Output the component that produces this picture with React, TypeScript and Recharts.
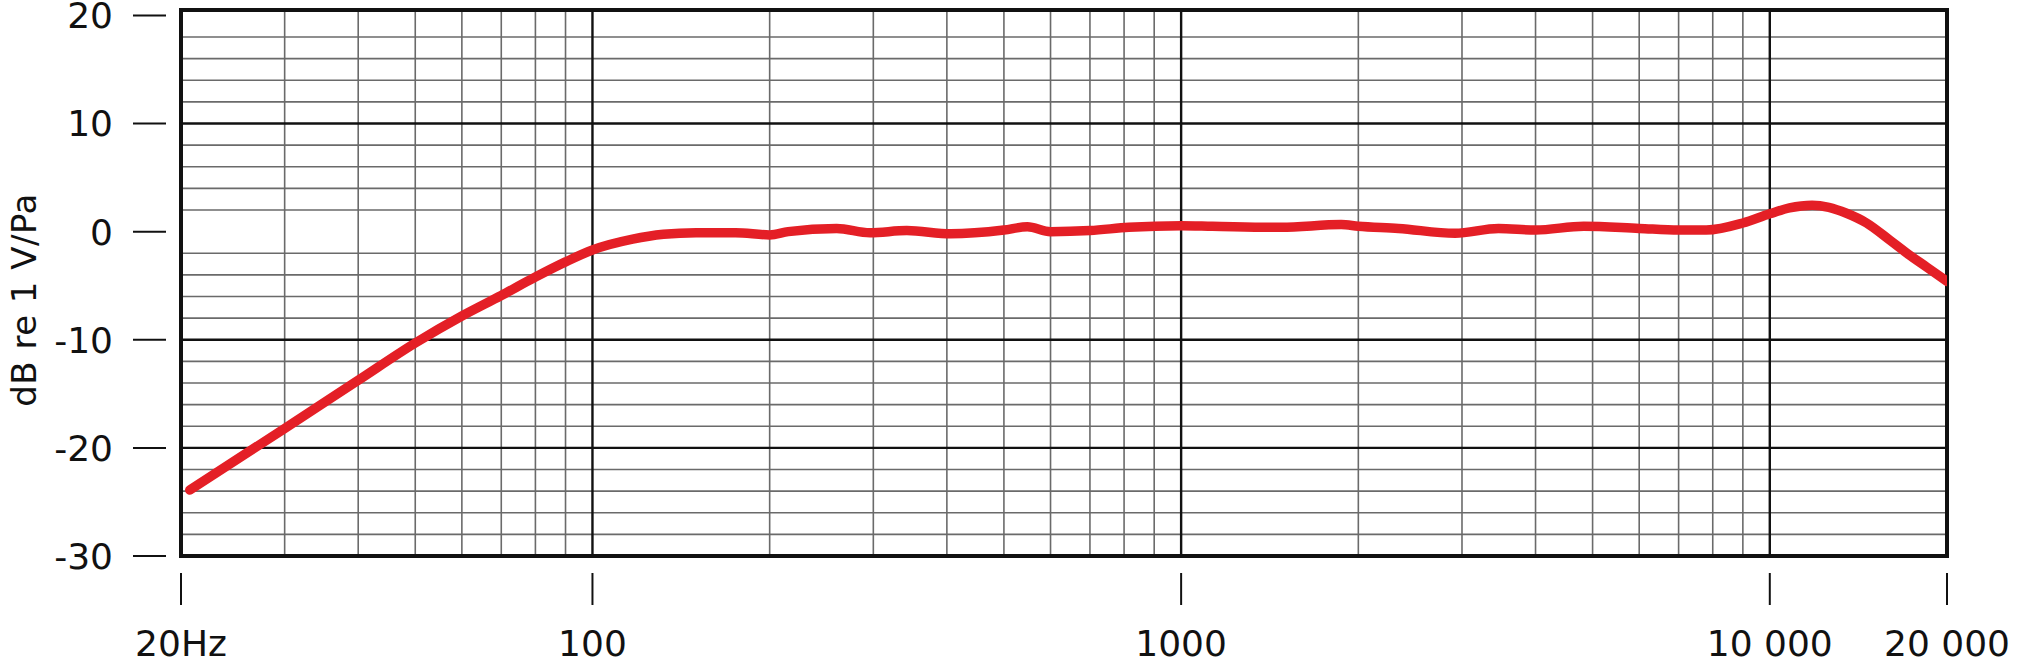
import React from 'react';
import { LineChart, Line, XAxis, YAxis, CartesianGrid, ReferenceArea } from 'recharts';

// Frequency (Hz) and response (dB re 1 V/Pa)
const FREQS = [20.7, 30, 40, 50, 60, 70, 80, 90, 100, 117, 132, 150, 175, 200, 215, 260, 296, 342, 406, 500, 548, 600, 700, 815, 1000, 1130, 1480, 1870, 2000, 2340, 2920, 3460, 4000, 4830, 6000, 7000, 7800, 9000, 10000, 10800, 11800, 12600, 13500, 14600, 16000, 17200, 18500, 20000];
const RESPONSE_DB = [-23.9, -18.2, -13.75, -10.3, -7.8, -5.9, -4.2, -2.8, -1.7, -0.7, -0.25, -0.1, -0.1, -0.3, 0.0, 0.3, -0.1, 0.1, -0.2, 0.15, 0.45, 0.0, 0.1, 0.4, 0.55, 0.5, 0.4, 0.65, 0.5, 0.3, -0.15, 0.3, 0.15, 0.5, 0.3, 0.15, 0.15, 0.8, 1.65, 2.2, 2.45, 2.25, 1.7, 0.8, -0.8, -2.1, -3.3, -4.6];

const X_TICKS = [20, 100, 1000, 10000, 20000];
const X_TICK_LABELS = ['20Hz', '100', '1000', '10 000', '20 000'];
const Y_TICKS = [-30, -20, -10, 0, 10, 20];
const Y_TICK_LABELS = ['-30', '-20', '-10', '0', '10', '20'];

const X_MINOR = [30, 40, 50, 60, 70, 80, 90, 200, 300, 400, 500, 600, 700, 800, 900, 2000, 3000, 4000, 5000, 6000, 7000, 8000, 9000];
const X_MAJOR = [100, 1000, 10000];
const Y_MINOR = [-28, -26, -24, -22, -18, -16, -14, -12, -8, -6, -4, -2, 2, 4, 6, 8, 12, 14, 16, 18];
const Y_MAJOR = [-20, -10, 10];

const Y_TITLE = 'dB re 1 V/Pa';

const data = FREQS.map((f, i) => ({ f, db: RESPONSE_DB[i] }));

const FONT = "'DejaVu Sans', sans-serif";
const FS = 36;

const XTick = (props: any) => {
  const { x, y, payload } = props;
  const idx = X_TICKS.indexOf(payload.value);
  const label = idx >= 0 ? X_TICK_LABELS[idx] : String(payload.value);
  return (
    <g>
      <line x1={x} x2={x} y1={y + 17} y2={y + 49} stroke="#111" strokeWidth={2} />
      <text x={x} y={y + 100} textAnchor="middle" fontFamily={FONT} fontSize={FS} fill="#111">
        {label}
      </text>
    </g>
  );
};

const YTick = (props: any) => {
  const { x, y, payload } = props;
  const idx = Y_TICKS.indexOf(payload.value);
  const label = idx >= 0 ? Y_TICK_LABELS[idx] : String(payload.value);
  return (
    <g>
      <line x1={x - 48} x2={x - 15} y1={y} y2={y} stroke="#111" strokeWidth={2} />
      <text x={x - 68} y={y + Math.max(0, 14 - y) * 0} dy="0.36em" textAnchor="end" fontFamily={FONT} fontSize={FS} fill="#111">
        {label}
      </text>
    </g>
  );
};

const YTitle = () => (
  <text
    x={24}
    y={300}
    transform="rotate(-90 24 300)"
    textAnchor="middle"
    dominantBaseline="central"
    fontFamily={FONT}
    fontSize={34}
    letterSpacing={0.5}
    fill="#111"
  >
    {Y_TITLE}
  </text>
);

export default function App() {
  return (
    <div style={{ position: 'absolute', left: 0, top: 0, width: 2018, height: 669, background: '#fff' }}>
      <LineChart width={2018} height={669} data={data} margin={{ top: 10, right: 71, left: 0, bottom: 0 }}>
        <CartesianGrid
          horizontalValues={Y_MINOR}
          verticalValues={X_MINOR}
          stroke="#6a6a6a"
          strokeWidth={1.6}
        />
        <CartesianGrid
          horizontalValues={Y_MAJOR}
          verticalValues={X_MAJOR}
          stroke="#111"
          strokeWidth={2.4}
        />
        <XAxis
          dataKey="f"
          type="number"
          scale="log"
          domain={[20, 20000]}
          ticks={X_TICKS}
          interval={0}
          allowDataOverflow
          axisLine={false}
          tickLine={false}
          tickSize={0}
          tickMargin={0}
          height={113}
          tick={<XTick />}
        />
        <YAxis
          type="number"
          domain={[-30, 20.5]}
          ticks={Y_TICKS}
          interval={0}
          allowDataOverflow
          axisLine={false}
          tickLine={false}
          tickSize={0}
          tickMargin={0}
          width={181}
          tick={<YTick />}
          label={<YTitle />}
        />
        <Line
          type="monotone"
          dataKey="db"
          stroke="#e41f26"
          strokeWidth={9.5}
          strokeLinecap="round"
          strokeLinejoin="round"
          dot={false}
          activeDot={false}
          isAnimationActive={false}
        />
        <ReferenceArea
          x1={20}
          x2={20000}
          y1={-30}
          y2={20.5}
          fill="none"
          fillOpacity={0}
          stroke="#111"
          strokeWidth={4}
          ifOverflow="visible"
        />
      </LineChart>
    </div>
  );
}
